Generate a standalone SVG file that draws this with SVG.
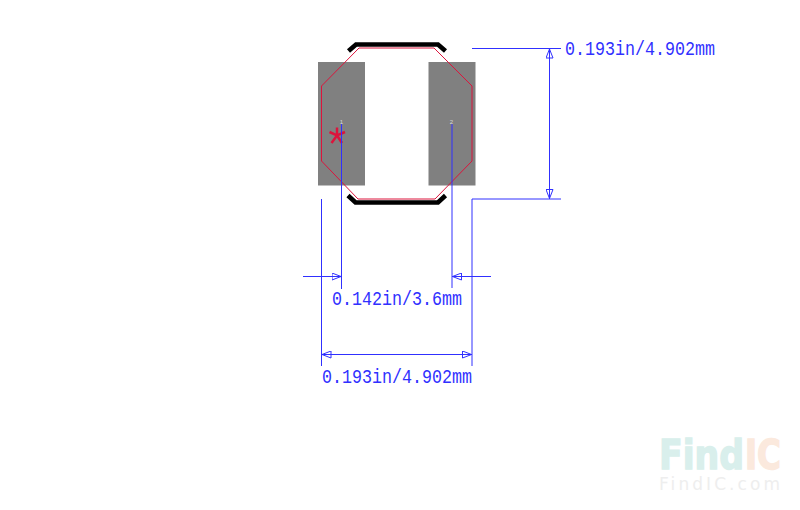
<svg xmlns="http://www.w3.org/2000/svg" width="800" height="510" viewBox="0 0 800 510">
<style>
.pad{fill:#808080}
.dim{fill:none;stroke:#3030ff;stroke-width:1}
.lbl{font-family:"Liberation Mono","Noto Sans CJK SC",monospace;font-size:20px;fill:#3030ff}
.pin{font-family:"Liberation Sans",sans-serif;font-size:6px;fill:#d8d8d8;text-anchor:middle}
.silk{fill:none;stroke:#000;stroke-width:4.600;stroke-linejoin:miter}
.wm{font-family:"DejaVu Sans",sans-serif;font-weight:bold;font-size:41px;stroke-width:1.500}
</style>
<defs>
<marker id="a" viewBox="0 0 10 8" refX="10" refY="4" markerWidth="10" markerHeight="8" markerUnits="userSpaceOnUse" orient="auto-start-reverse">
<path d="M0.5 0.5L9.5 4L0.5 7.5Z" fill="none" stroke="#3030ff" stroke-width="1"/>
</marker>
</defs>
<g id="watermark">
<text class="wm" x="659" y="469" fill="#d9efec" stroke="#d9efec" textLength="85" lengthAdjust="spacingAndGlyphs">Find</text>
<text class="wm" x="745" y="469" fill="#fbe9dd" stroke="#fbe9dd" textLength="36" lengthAdjust="spacingAndGlyphs">IC</text>
<text x="659" y="490" font-family="'DejaVu Sans',sans-serif" font-size="17" fill="#eeeeee" textLength="121">FindIC.com</text>
</g>
<g id="pad1"><rect class="pad" x="318" y="62" width="47" height="123.5"/><text class="pin" x="341.500" y="124">1</text></g>
<g id="pad2"><rect class="pad" x="428.500" y="62" width="47" height="123.5"/><text class="pin" x="451.500" y="124">2</text></g>
<g id="outline"><path d="M321.500 86L359 48H434L472 86V161L435 199H358L321.500 161Z" fill="none" stroke="#dc143c" stroke-width="1"/></g>
<g id="silkscreen">
<path class="silk" d="M348.500 51L356 44.500H438L445.500 51"/>
<path class="silk" d="M348 195.500L355.500 202.500H438L445.500 195.500"/>
</g>
<g id="pin1-marker"><path d="M337 127.500V136M329.500 132L337 135.500L345 132M337 135.500L331.500 143M337 135.500L342 143" fill="none" stroke="#dc143c" stroke-width="2.500"/></g>
<g id="connectors">
<path class="dim" d="M341.500 124V289M452 124V288M321.500 199V366M472 199H561M472 199V366M472 48.500H561"/>
<path class="dim" d="M303 276.500H341.500" marker-end="url(#a)"/>
<path class="dim" d="M491 276.500H452" marker-end="url(#a)"/>
<path class="dim" d="M321.500 354.500H472" marker-start="url(#a)" marker-end="url(#a)"/>
<path class="dim" d="M549.500 48.500V199" marker-start="url(#a)" marker-end="url(#a)"/>
</g>
<g id="labels">
<text class="lbl" x="565" y="55" textLength="150" lengthAdjust="spacingAndGlyphs">0.193in/4.902mm</text>
<text class="lbl" x="332" y="305" textLength="130" lengthAdjust="spacingAndGlyphs">0.142in/3.6mm</text>
<text class="lbl" x="322" y="383" textLength="150" lengthAdjust="spacingAndGlyphs">0.193in/4.902mm</text>
</g>
</svg>
